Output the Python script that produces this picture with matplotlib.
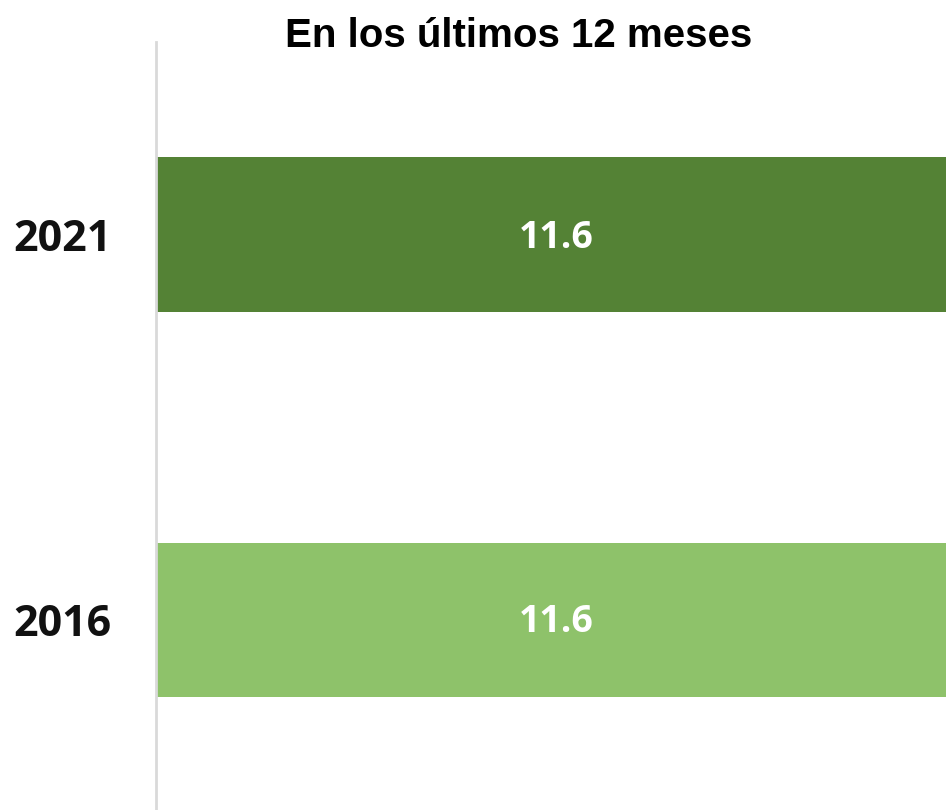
import matplotlib
matplotlib.use("Agg")
import matplotlib.pyplot as plt

years = ["2016", "2021"]
values = [11.6, 11.6]
colors = ["#8EC26A", "#548235"]
title = "En los últimos 12 meses"

W, H = 946, 810
fig = plt.figure(figsize=(W / 100, H / 100), dpi=100)
ax = fig.add_axes([156 / W, -2 / H, (W - 156) / W, 770 / H])

pos = list(range(len(years)))
ax.barh(pos, values, height=0.4, color=colors, edgecolor="none")
# the bars run slightly past the right edge of the plot area
ax.set_xlim(0, max(values) * 0.986)
ax.set_ylim(-0.5, 1.5)

for p, v in zip(pos, values):
    ax.annotate(f"{v:.1f}", xy=(v / 2, p), xytext=(0, -13), textcoords="offset pixels",
                ha="center", va="baseline", color="white",
                fontsize=27, fontweight="bold", family=["Open Sans", "DejaVu Sans"])

ax.set_yticks(pos)
ax.set_yticklabels(years, fontsize=31, fontweight="bold",
                   family=["Open Sans", "DejaVu Sans"], color="#111111")
ax.tick_params(axis="y", length=0, pad=32)
ax.set_xticks([])
for s in ["top", "right", "bottom"]:
    ax.spines[s].set_visible(False)
ax.spines["left"].set_color("#d9d9d9")
ax.spines["left"].set_linewidth(2)

fig.text(519 / W, 1 - 47 / H, title, ha="center", va="baseline", fontsize=29,
         fontweight="bold", family=["Liberation Sans", "DejaVu Sans"])

fig.savefig("out.png", dpi=100)
